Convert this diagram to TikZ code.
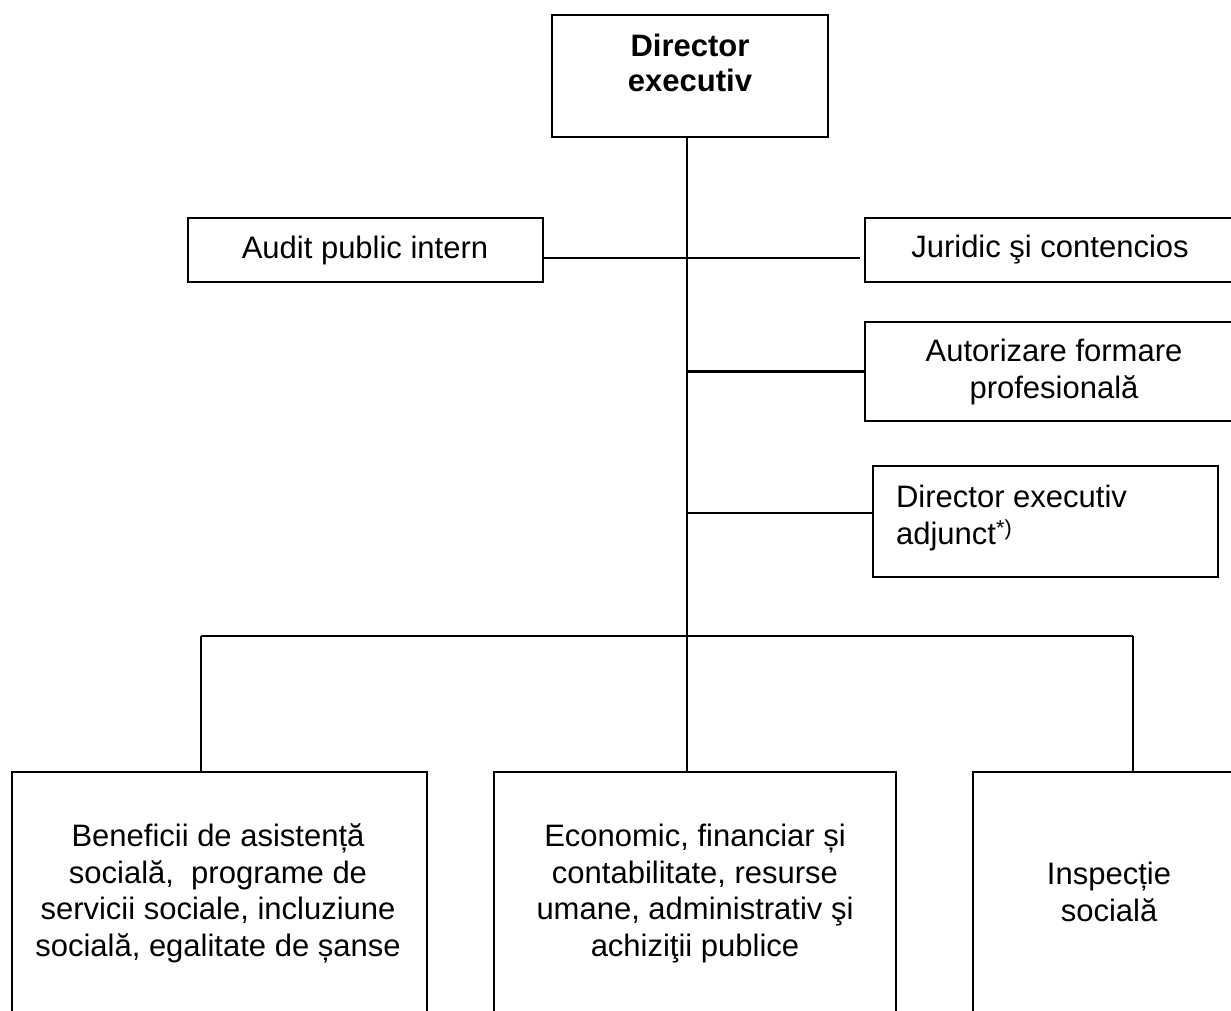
\documentclass[tikz,border=0pt]{standalone}
\usepackage{fontspec}
\setmainfont{Liberation Sans}
\begin{document}
\begin{tikzpicture}[x=1pt,y=-1pt,line width=2.2pt,
  box/.style={draw,line width=2.2pt,inner sep=0pt,outer sep=0pt},
  txt/.style={font=\fontsize{31}{36.5}\selectfont,align=center,inner sep=0pt,anchor=north},
  conn/.style={line width=2.2pt}]
\useasboundingbox (0,0) rectangle (1231,1010);
% boxes
\node[box,minimum width=276pt,minimum height=122pt] (dir) at (690,76) {};
\node[box,minimum width=355pt,minimum height=64pt] (aud) at (365.5,250) {};
\node[box,minimum width=380pt,minimum height=64pt] (jur) at (1055,250) {};
\node[box,minimum width=380pt,minimum height=99pt] (aut) at (1055,371.5) {};
\node[box,minimum width=345pt,minimum height=111pt] (adj) at (1045.5,521.5) {};
\node[box,minimum width=415pt,minimum height=253pt] (leftB) at (219.5,898.5) {};
\node[box,minimum width=402pt,minimum height=253pt] (midB) at (695,898.5) {};
\node[box,minimum width=272pt,minimum height=253pt] (rightB) at (1109,898.5) {};
% texts
\node[txt,font=\fontsize{31}{35}\selectfont\bfseries] (dirT) at (690,33) {Director\\executiv};
\node[txt] (audT) at (365,235) {Audit public intern};
\node[txt] (jurT) at (1050,234) {Juridic şi contencios};
\node[txt] (autT) at (1054,338) {Autorizare formare\\profesională};
\node[txt,anchor=north west,align=left] (adjT) at (895,484) {Director executiv\\adjunct\textsuperscript{*)}};
\node[txt] (leftT) at (218,823) {Beneficii de asistență\\socială, \ programe de\\servicii sociale, incluziune\\socială, egalitate de șanse};
\node[txt] (midT) at (695,823) {Economic, financiar și\\contabilitate, resurse\\umane, administrativ şi\\achiziţii publice};
\node[txt] (rightT) at (1109,861) {Inspecție\\socială};
% connectors
\coordinate (spine) at (687,0);
\coordinate (lv) at (201,636);
\coordinate (rv) at (1133,636);
\draw[conn] (dir.south -| spine) -- (midB.north -| spine);
\draw[conn] ([yshift=-8pt]aud.east) -- ([xshift=-5pt,yshift=-8pt]jur.west);
\draw[conn] (aut.west -| spine) -- (aut.west);
\draw[conn] ([yshift=8.5pt]adj.west -| spine) -- ([yshift=8.5pt]adj.west);
\draw[conn] (lv) -- (rv);
\draw[conn] (lv) -- (lv |- leftB.north);
\draw[conn] (rv) -- (rv |- rightB.north);
\end{tikzpicture}
\end{document}
